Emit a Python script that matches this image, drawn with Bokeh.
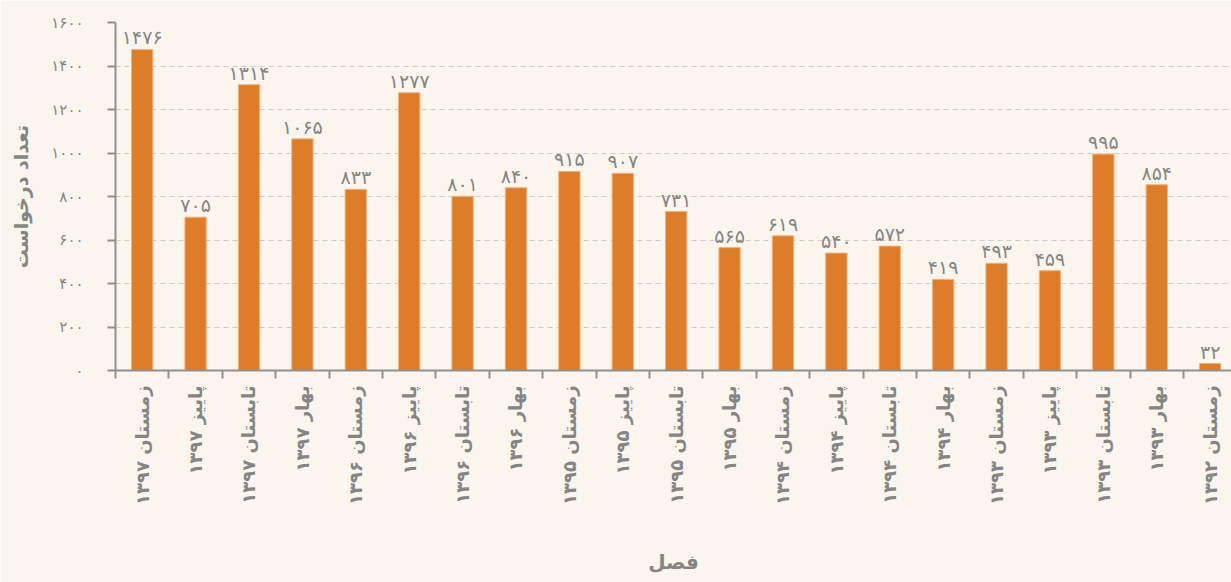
import math
from bokeh.plotting import figure
from bokeh.models import ColumnDataSource, FixedTicker, LinearAxis, Range1d, Grid
from bokeh.core.properties import value
from bokeh.embed import file_html
from bokeh.resources import INLINE

seasons = ["زمستان", "پاییز", "تابستان", "بهار",
           "زمستان", "پاییز", "تابستان", "بهار",
           "زمستان", "پاییز", "تابستان", "بهار",
           "زمستان", "پاییز", "تابستان", "بهار",
           "زمستان", "پاییز", "تابستان", "بهار",
           "زمستان"]
years = [1397, 1397, 1397, 1397,
         1396, 1396, 1396, 1396,
         1395, 1395, 1395, 1395,
         1394, 1394, 1394, 1394,
         1393, 1393, 1393, 1393,
         1392]
counts = [1476, 705, 1314, 1065, 833, 1277, 801, 840, 915, 907, 731,
          565, 619, 540, 572, 419, 493, 459, 995, 854, 32]
y_ticks = [0, 200, 400, 600, 800, 1000, 1200, 1400, 1600]

FA = str.maketrans("0123456789", "۰۱۲۳۴۵۶۷۸۹")


def fa(n):
    return str(n).translate(FA)


labels = [f"{s} {fa(y)}" for s, y in zip(seasons, years)]
xs = list(range(len(counts)))

BG = "#FBF5EE"
BAR = "#DD7D2A"
GRAY = "#858585"
AXIS = "#8f8f8f"
FONT = "DejaVu Sans"

src = ColumnDataSource(dict(x=xs, top=counts, lab=[fa(c) for c in counts]))

p = figure(frame_width=1116, frame_height=348, output_backend="svg",
           toolbar_location=None,
           x_range=Range1d(-0.5, 20.4), y_range=Range1d(0, 1600),
           x_axis_type=None, y_axis_type=None,
           min_border_left=115, min_border_right=0, min_border_top=22,
           min_border_bottom=212)
p.background_fill_color = BG
p.border_fill_color = BG
p.outline_line_color = None

p.vbar(x="x", top="top", width=0.4, source=src, fill_color=BAR,
       line_color="#F2B57F", line_width=1)
p.text(x="x", y="top", text="lab", source=src, text_align="center",
       text_baseline="bottom", y_offset=-1, text_font=value(FONT),
       text_font_size="19px", text_color=GRAY)

# y axis
yax = LinearAxis(ticker=FixedTicker(ticks=y_ticks),
                 major_label_overrides={t: fa(t) for t in y_ticks})
yax.axis_label = "تعداد درخواست"
yax.axis_label_text_font = FONT
yax.axis_label_text_font_style = "bold"
yax.axis_label_text_font_size = "19px"
yax.axis_label_text_color = GRAY
yax.axis_label_standoff = 16
yax.major_label_text_font = FONT
yax.major_label_text_font_size = "15px"
yax.major_label_text_color = GRAY
yax.major_label_standoff = 24
yax.axis_line_color = AXIS
yax.axis_line_width = 2
yax.major_tick_line_color = AXIS
yax.major_tick_line_width = 2
yax.major_tick_in = 0
yax.major_tick_out = 8
yax.minor_tick_line_color = None
p.add_layout(yax, "left")

# x axis: labels at centres, tick marks at category boundaries
xax = LinearAxis(ticker=FixedTicker(ticks=xs,
                                    minor_ticks=[i - 0.5 for i in range(len(xs) + 1)]),
                 major_label_overrides={i: labels[i] for i in xs})
xax.axis_label = "فصل"
xax.axis_label_text_font = FONT
xax.axis_label_text_font_style = "bold"
xax.axis_label_text_font_size = "20px"
xax.axis_label_text_color = GRAY
xax.axis_label_standoff = 42
xax.major_label_orientation = math.pi / 2
xax.major_label_text_font = FONT
xax.major_label_text_font_style = "bold"
xax.major_label_text_font_size = "18px"
xax.major_label_text_color = GRAY
xax.major_label_standoff = 7
xax.axis_line_color = AXIS
xax.axis_line_width = 2
xax.major_tick_line_color = None
xax.major_tick_in = 0
xax.major_tick_out = 8
xax.minor_tick_line_color = AXIS
xax.minor_tick_line_width = 2
xax.minor_tick_in = 0
xax.minor_tick_out = 8
p.add_layout(xax, "below")

g = Grid(dimension=1, ticker=FixedTicker(ticks=y_ticks[1:]),
         grid_line_color="#CDCDCD", grid_line_dash="5 4", grid_line_width=1)
p.add_layout(g)

html = file_html(p, INLINE)
html = html.replace("<body>", f'<body style="background:{BG}">', 1)
open("out.html", "w").write(html)
